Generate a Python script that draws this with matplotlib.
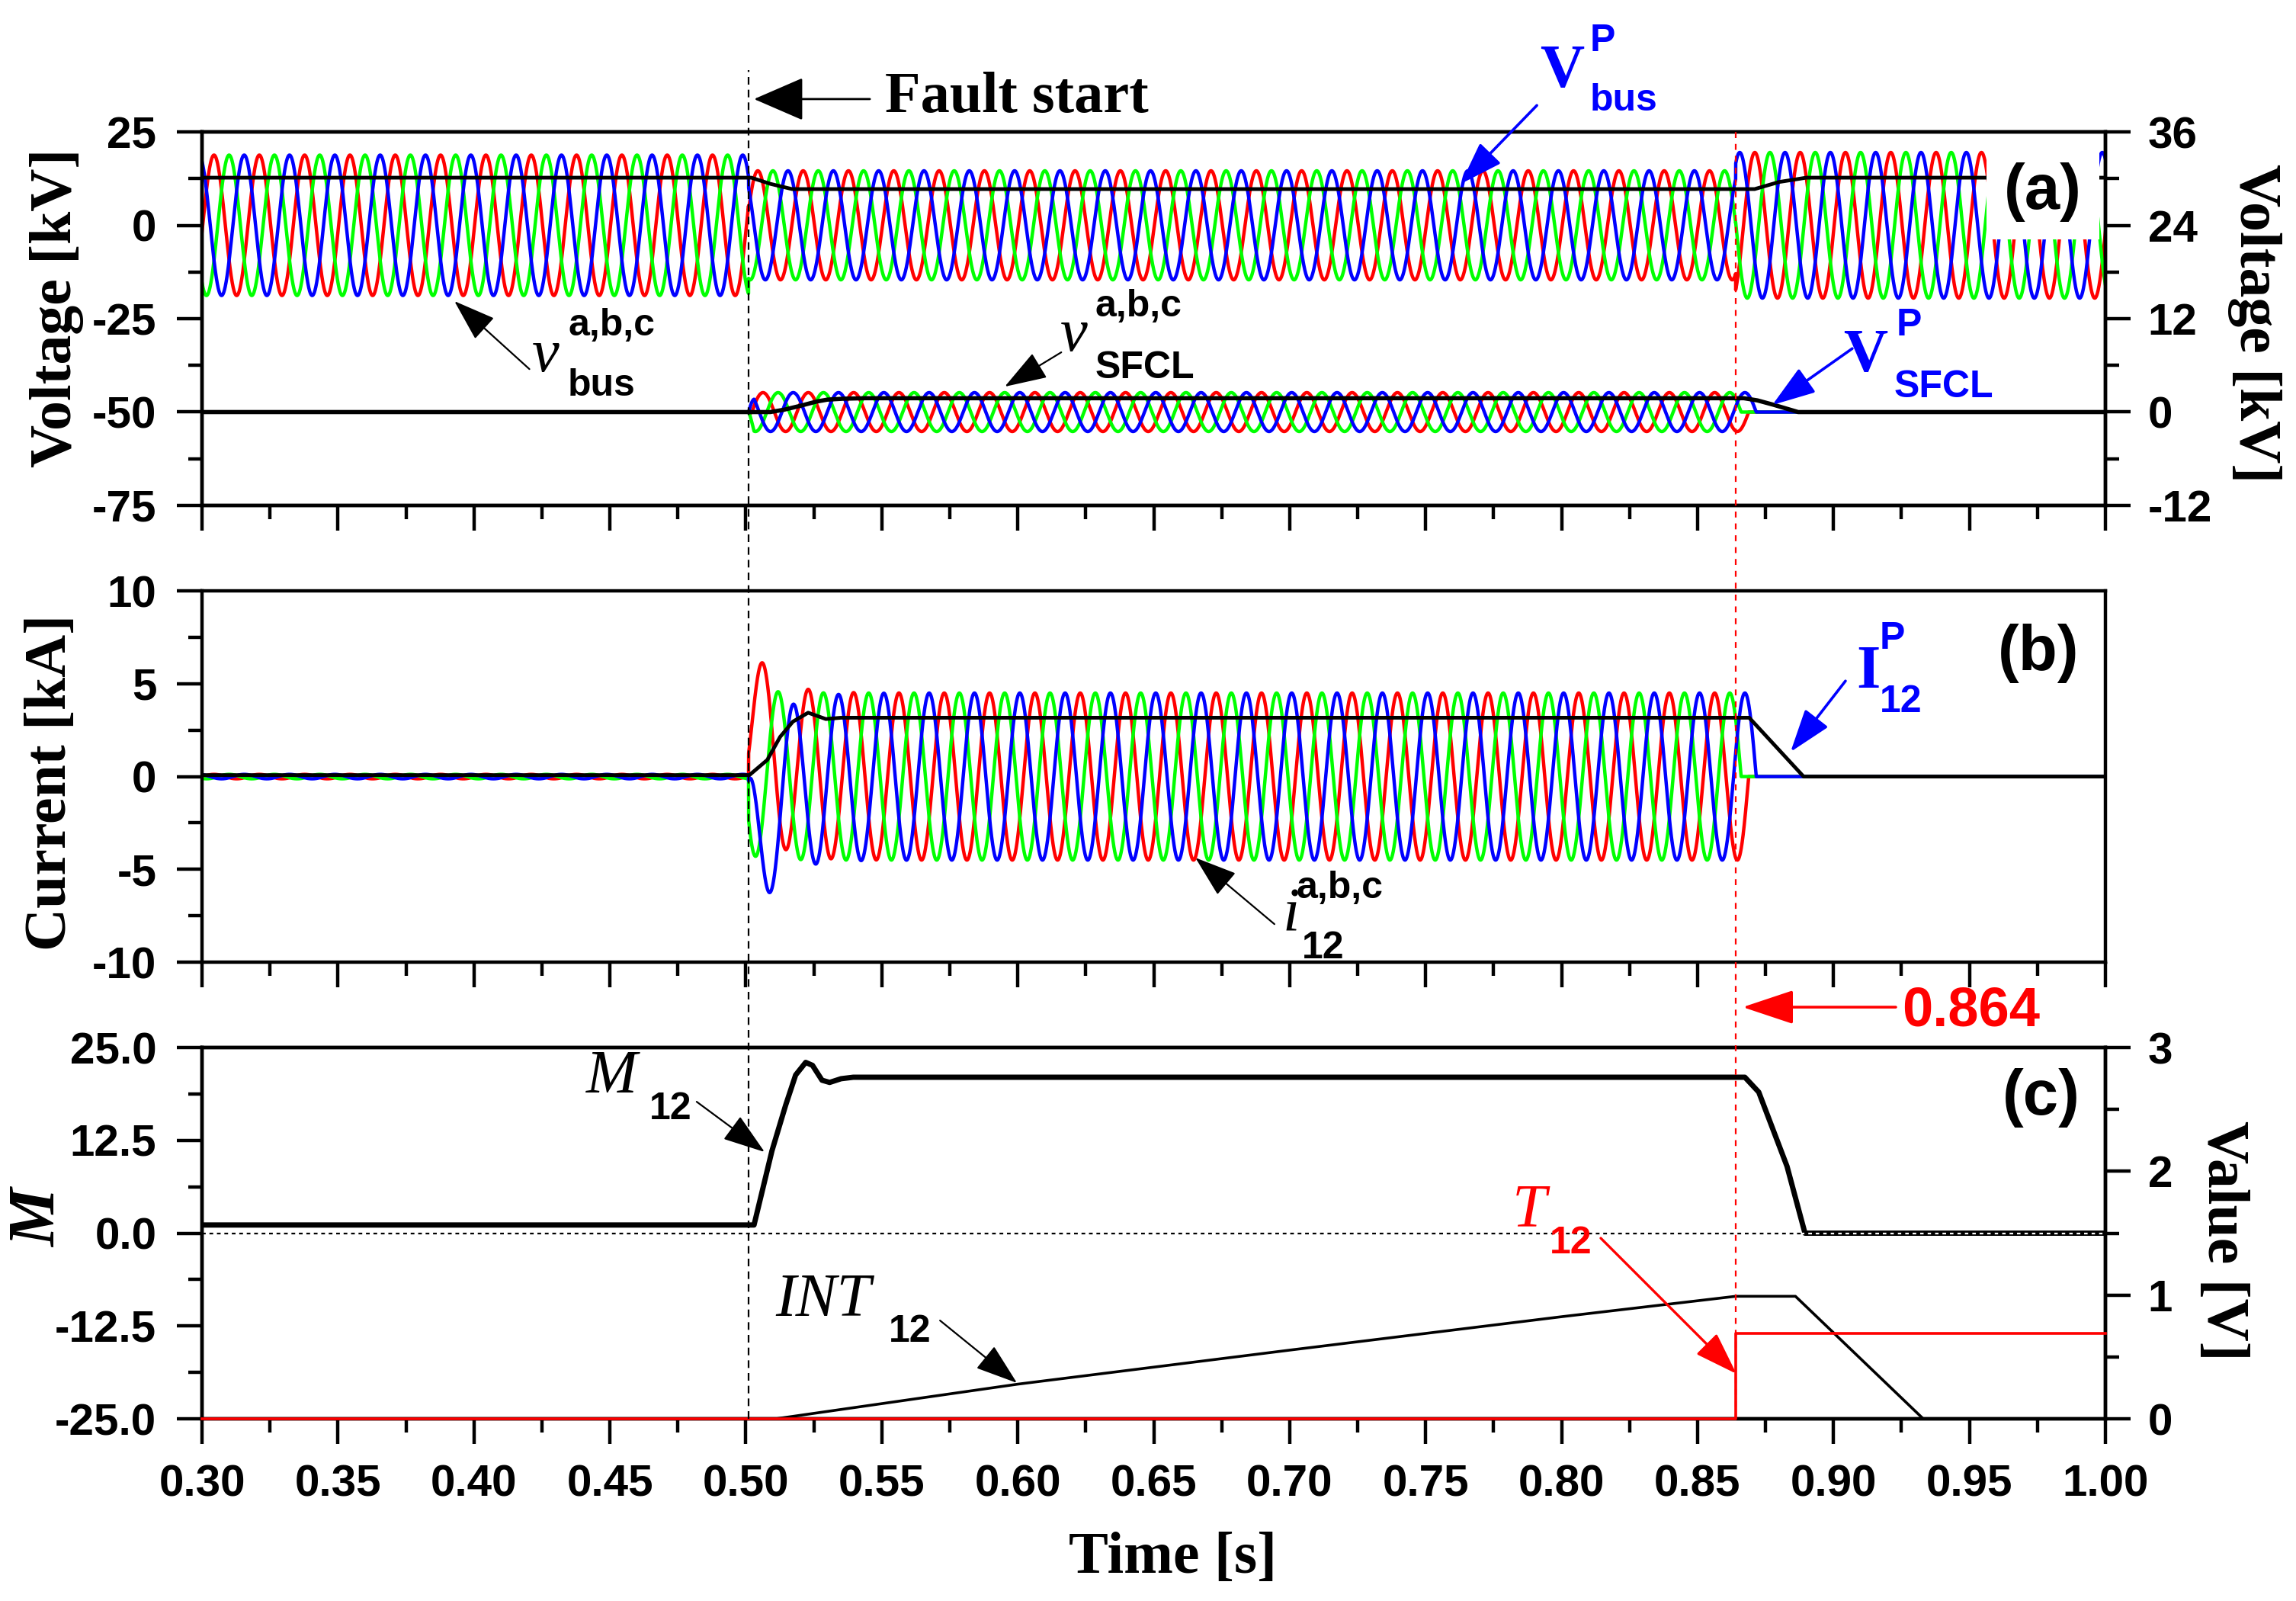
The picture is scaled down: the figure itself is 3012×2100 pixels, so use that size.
import numpy as np
import matplotlib
matplotlib.use("Agg")
import matplotlib.pyplot as plt
from matplotlib.lines import Line2D
from matplotlib.ticker import MultipleLocator, FormatStrFormatter
from matplotlib.transforms import blended_transform_factory

plt.rcParams['font.family'] = 'Liberation Sans'
plt.rcParams['font.weight'] = 'bold'
plt.rcParams['axes.unicode_minus'] = False

# Datos

F_RED = 60.0          # frecuencia de la red (Hz)
T_FALLA = 0.501       # inicio de la falla (s)
T_DISPARO = 0.864     # disparo (s)
COLORES = ['#ff0000', '#00ff00', '#0000ff']   # fases a, b, c

# (a) tension de barra: amplitud pico antes / durante / despues (kV)
amp_bus = [18.8, 14.6, 19.5]
t_pico_bus = 0.3044   # primer pico de la fase a

# valor V^P_bus (linea negra)
vp_bus_t = [0.30, 0.502, 0.509, 0.517, 0.871, 0.880, 0.890, 1.00]
vp_bus_v = [12.75, 12.75, 11.1, 9.7, 9.7, 11.6, 12.75, 12.75]

# (a) tension en el SFCL (eje derecho, kV)
amp_sfcl = 2.5
vp_sfcl_t = [0.30, 0.509, 0.514, 0.520, 0.526, 0.530, 0.536, 0.544,
             0.867, 0.872, 0.878, 0.887, 1.00]
vp_sfcl_v = [0.0, 0.0, 0.3, 0.8, 1.35, 1.6, 1.72, 1.78,
             1.78, 1.5, 0.93, 0.0, 0.0]

# (b) corrientes de linea (kA)
amp_i_pre = 0.12
amp_i_falla = 4.5
t_pico_i = 0.5063
dc_i0 = [3.1, 0.28, -4.7]    # componente continua inicial por fase
tau_dc = 0.008

ip_t = [0.30, 0.5013, 0.5079, 0.5126, 0.5173, 0.5229, 0.5294, 0.535,
        0.869, 0.889, 1.00]
ip_v = [0.08, 0.08, 0.9, 2.14, 2.96, 3.44, 3.10, 3.17, 3.17, 0.0, 0.0]

# (c) M12, INT12 y T12
m12_t = [0.30, 0.503, 0.5096, 0.5146, 0.5183, 0.522, 0.5245, 0.528, 0.5308,
         0.535, 0.5395, 0.8674, 0.8725, 0.8829, 0.8895, 1.00]
m12_v = [1.1, 1.1, 11.1, 17.2, 21.3, 23.0, 22.6, 20.6, 20.3,
         20.8, 21.0, 21.0, 19.0, 9.0, 0.0, 0.0]

int12_t = [0.30, 0.511, 0.60, 0.70, 0.80, 0.864, 0.886, 0.933, 1.00]
int12_v = [0.0, 0.0, 0.28, 0.555, 0.825, 0.99, 0.99, 0.0, 0.0]

t12_t = [0.30, 0.864, 0.864, 1.00]
t12_v = [0.0, 0.0, 0.69, 0.69]

x_ticks = [0.30, 0.35, 0.40, 0.45, 0.50, 0.55, 0.60, 0.65, 0.70,
           0.75, 0.80, 0.85, 0.90, 0.95, 1.00]

# Formas de onda

t = np.linspace(0.30, 1.00, 35001)
w = 2 * np.pi * F_RED
desfase = [0.0, 2 * np.pi / 3, 4 * np.pi / 3]


def corte(k):
    # primer cruce por cero de la corriente de la fase k tras el disparo
    fase0 = w * (T_DISPARO - t_pico_i) - desfase[k]
    n = np.ceil((fase0 - np.pi / 2) / np.pi)
    return t_pico_i + (np.pi / 2 + n * np.pi + desfase[k]) / w


env_bus = np.where(t < T_FALLA, amp_bus[0],
                   np.where(t < T_DISPARO, amp_bus[1], amp_bus[2]))
rampa = np.clip((t - T_FALLA) / 0.002, 0, 1)

v_bus, v_sfcl, i12 = [], [], []
for k in range(3):
    v_bus.append(env_bus * np.cos(w * (t - t_pico_bus) - desfase[k]))

    vs = amp_sfcl * rampa * np.cos(w * (t - t_pico_i) - desfase[k])
    vs[t >= corte(k)] = 0
    v_sfcl.append(vs)

    ac = amp_i_falla * np.cos(w * (t - t_pico_i) - desfase[k])
    dc = dc_i0[k] * np.exp(-(t - T_FALLA) / tau_dc)
    pre = amp_i_pre * np.cos(w * (t - t_pico_bus) - desfase[k])
    i = np.where(t < T_FALLA, pre, ac + dc)
    i[t >= corte(k)] = 0
    i12.append(i)

# Figura

fig = plt.figure(figsize=(30.12, 21.0), dpi=100)
L, W = 0.088, 0.829
ax_a = fig.add_axes([L, 0.6843, W, 0.2333])
ax_b = fig.add_axes([L, 0.3990, W, 0.2319], sharex=ax_a)
ax_c = fig.add_axes([L, 0.1138, W, 0.2319], sharex=ax_a)
ax_a2 = ax_a.twinx()
ax_c2 = ax_c.twinx()

LW = 3.2
for k in range(3):
    ax_a.plot(t, v_bus[k], color=COLORES[k], lw=LW)
    ax_a2.plot(t, v_sfcl[k], color=COLORES[k], lw=LW)
    ax_b.plot(t, i12[k], color=COLORES[k], lw=LW)
ax_a.plot(vp_bus_t, vp_bus_v, color='k', lw=3.5)
ax_a2.plot(vp_sfcl_t, vp_sfcl_v, color='k', lw=4.0)
ax_b.plot(ip_t, ip_v, color='k', lw=3.5)

ax_c.plot(m12_t, m12_v, color='k', lw=5.0)
ax_c.axhline(0, color='k', lw=1.6, ls=(0, (2.2, 2.2)), gapcolor='white', zorder=3)
ax_c2.plot(int12_t, int12_v, color='k', lw=2.6, clip_on=False)
ax_c2.plot(t12_t, t12_v, color='red', lw=2.6, clip_on=False, zorder=3)

# Ejes
ax_a.set_ylim(-75, 25)
ax_a2.set_ylim(-12, 36)
ax_b.set_ylim(-10, 10)
ax_c.set_ylim(-25, 25)
ax_c2.set_ylim(0, 3)
ax_a.set_xlim(0.30, 1.00)

ax_a.yaxis.set_major_locator(MultipleLocator(25))
ax_a.yaxis.set_minor_locator(MultipleLocator(12.5))
ax_a2.yaxis.set_major_locator(MultipleLocator(12))
ax_a2.yaxis.set_minor_locator(MultipleLocator(6))
ax_b.yaxis.set_major_locator(MultipleLocator(5))
ax_b.yaxis.set_minor_locator(MultipleLocator(2.5))
ax_c.yaxis.set_major_locator(MultipleLocator(12.5))
ax_c.yaxis.set_minor_locator(MultipleLocator(6.25))
ax_c.yaxis.set_major_formatter(FormatStrFormatter('%.1f'))
ax_c2.yaxis.set_major_locator(MultipleLocator(1))
ax_c2.yaxis.set_minor_locator(MultipleLocator(0.5))

ax_c.set_xticks(x_ticks)
ax_c.xaxis.set_minor_locator(MultipleLocator(0.025))
ax_c.xaxis.set_major_formatter(FormatStrFormatter('%.2f'))

for ax in [ax_a, ax_a2, ax_b, ax_c, ax_c2]:
    for s in ax.spines.values():
        s.set_linewidth(3.2)
    ax.tick_params(which='major', direction='out', length=24, width=3.2,
                   labelsize=42, pad=19)
    ax.tick_params(which='minor', direction='out', length=13, width=3.2)
    ax.tick_params(axis='x', top=False, which='both')
for ax in [ax_a2, ax_c2]:
    ax.tick_params(axis='y', which='major', pad=16)
for ax in [ax_a, ax_b]:
    ax.tick_params(axis='x', labelbottom=False)
ax_b.tick_params(axis='y', right=False, which='both')

# Lineas verticales de falla y disparo
trans_v = blended_transform_factory(ax_c.transData, fig.transFigure)
fig.add_artist(Line2D([T_FALLA] * 2, [0.1138, 0.9564], transform=trans_v,
                      color='k', lw=1.6, ls=(0, (4.5, 3.0))))
fig.add_artist(Line2D([T_DISPARO] * 2, [0.1138, 0.9176], transform=trans_v,
                      color='red', lw=1.6, ls=(0, (3.5, 3.5))))

# Etiquetas de los ejes
serif = 'Liberation Serif'
fig.text(75 / 3012, 1 - 404 / 2100, 'Voltage [kV]', rotation=90, family=serif,
         size=56, weight='bold', ha='center', va='center')
fig.text(2957 / 3012, 1 - 424 / 2100, 'Voltage [kV]', rotation=270, family=serif,
         size=56, weight='bold', ha='center', va='center')
fig.text(68 / 3012, 1 - 1026 / 2100, 'Current [kA]', rotation=90, family=serif,
         size=56, weight='bold', ha='center', va='center')
fig.text(52 / 3012, 1 - 1598 / 2100, 'M', rotation=90, family=serif,
         size=62, weight='bold', style='italic', ha='center', va='center')
fig.text(2915 / 3012, 1 - 1627 / 2100, 'Value [V]', rotation=270, family=serif,
         size=56, weight='bold', ha='center', va='center')
fig.text(1539 / 3012, 1 - 2045 / 2100, 'Time [s]', family=serif,
         size=56, weight='bold', ha='center', va='center')


def flecha(ax, trans, cola, punta, color, lw=1.6, largo=0.5, ancho=0.17):
    ax.annotate('', xy=punta, xycoords=trans, xytext=cola, textcoords=trans,
                arrowprops=dict(arrowstyle='-|>,head_length=%g,head_width=%g' % (largo, ancho),
                                mutation_scale=70, color=color, lw=lw,
                                shrinkA=0, shrinkB=0),
                annotation_clip=False)


def etiqueta(ax, trans, base, p_base, sup, p_sup, sub, p_sub, color,
             estilo='italic', peso='normal'):
    ax.text(*p_base, base, transform=trans, family=serif, style=estilo,
            weight=peso, size=58, color=color, ha='left', va='baseline',
            clip_on=False, zorder=6)
    if sup:
        ax.text(*p_sup, sup, transform=trans, size=36, color=color,
                ha='left', va='baseline', clip_on=False, zorder=6)
    ax.text(*p_sub, sub, transform=trans, size=36, color=color,
            ha='left', va='baseline', clip_on=False, zorder=6)


ta = ax_a.transData
etiqueta(ax_a2, ta, 'v', (0.4214, -39.0), 'a,b,c', (0.4346, -29.5), 'bus', (0.4346, -45.6), 'k')
flecha(ax_a2, ta, (0.4204, -38.5), (0.3928, -20.3), 'k')
etiqueta(ax_a2, ta, 'v', (0.6157, -33.6), 'a,b,c', (0.6283, -24.4), 'SFCL', (0.6283, -40.9), 'k')
flecha(ax_a2, ta, (0.6160, -34.0), (0.5952, -43.2), 'k')
etiqueta(ax_a2, ta, 'V', (0.792, 37.0), 'P', (0.8105, 46.6), 'bus', (0.8105, 30.7), 'blue',
         estilo='normal', peso='bold')
flecha(ax_a2, ta, (0.7909, 32.1), (0.7629, 11.1), 'blue', lw=2.6)
etiqueta(ax_a2, ta, 'V', (0.9036, -39.1), 'P', (0.9232, -29.5), 'SFCL', (0.9221, -46.0), 'blue',
         estilo='normal', peso='bold')
flecha(ax_a2, ta, (0.9069, -33.0), (0.8775, -48.1), 'blue', lw=2.6)

ax_a2.text(0.5513, 30.3, 'Fault start', transform=ta, family=serif, size=55,
           weight='bold', ha='left', va='baseline', clip_on=False)
flecha(ax_a2, ta, (0.5456, 33.8), (0.503, 33.8), 'k', lw=2.0, largo=0.6, ancho=0.26)

ax_a.text(0.977, 8.9, '(a)', size=60, ha='center', va='center', zorder=10,
          bbox=dict(boxstyle='square,pad=0.28', fc='white', ec='none'))

tb = ax_b.transData
etiqueta(ax_b, tb, 'I', (0.9083, 4.78), 'P', (0.917, 6.88), '12', (0.917, 3.47), 'blue',
         estilo='normal', peso='bold')
flecha(ax_b, tb, (0.9044, 5.15), (0.8842, 1.33), 'blue', lw=2.6)
etiqueta(ax_b, tb, 'i', (0.6973, -8.28), 'a,b,c', (0.7023, -6.55), '12', (0.7045, -9.79), 'k')
flecha(ax_b, tb, (0.6944, -7.95), (0.6653, -4.37), 'k')
ax_b.text(0.9754, 6.65, '(b)', size=60, ha='center', va='center')

tc = ax_c.transData
etiqueta(ax_c2, tc, 'M', (0.4413, 18.94), None, None, '12', (0.4646, 15.35), 'k')
flecha(ax_c2, tc, (0.4819, 17.7), (0.5069, 10.93), 'k')
etiqueta(ax_c2, tc, 'INT', (0.5108, -11.09), None, None, '12', (0.5526, -14.63), 'k')
flecha(ax_c2, tc, (0.5714, -11.76), (0.5997, -20.17), 'k')
etiqueta(ax_c2, tc, 'T', (0.7819, 0.90), None, None, '12', (0.7957, -2.72), 'red')
flecha(ax_c2, tc, (0.8144, -0.67), (0.8643, -18.94), 'red', lw=2.4)
ax_c2.text(0.9252, 27.98, '0.864', transform=tc, size=52, color='red',
           ha='left', va='baseline', clip_on=False)
flecha(ax_c2, tc, (0.9229, 30.44), (0.8666, 30.44), 'red', lw=2.6, largo=0.6, ancho=0.2)
ax_c2.text(0.9765, 18.2, '(c)', transform=tc, size=60, ha='center', va='center')

fig.savefig('out.png', dpi=100, facecolor='white')
